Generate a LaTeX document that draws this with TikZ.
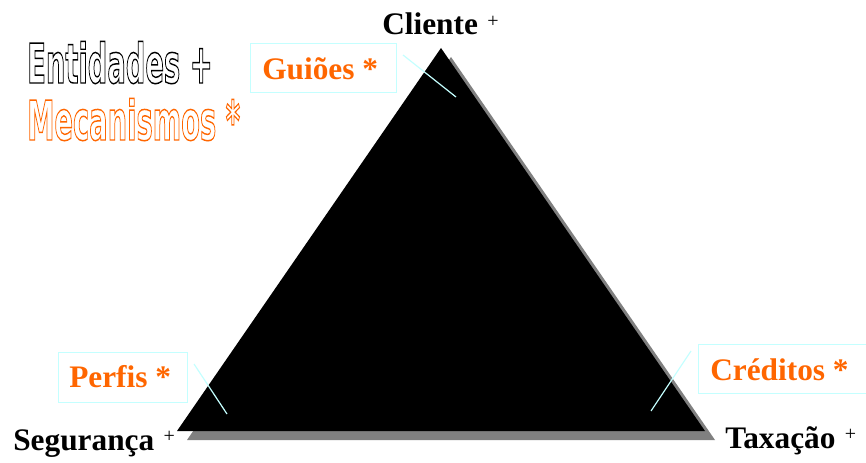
\documentclass[tikz,border=0pt]{standalone}
\usepackage{fontspec}
\usepackage{graphicx}
\setmainfont{Liberation Serif}
\newfontfamily\condfont{DejaVu Sans}
\definecolor{orng}{HTML}{FF6600}
\definecolor{pale}{HTML}{C4FFFF}
\definecolor{shadowgray}{HTML}{808080}
\newcommand{\outltext}[1]{\special{pdf:literal direct 1 Tr 1.1 w}#1\special{pdf:literal direct 0 Tr}}
\newcommand{\supplus}{\hspace{0.3em}\raisebox{5.5pt}{\fontsize{15}{15}\selectfont\mdseries+}}
\tikzset{
  vertexlabel/.style={inner sep=0pt, anchor=base west, font=\fontsize{23.5}{23.5}\selectfont\bfseries},
  mechbox/.style={draw=pale, line width=0.75pt, inner sep=0pt},
  mechtext/.style={inner sep=0pt, anchor=base west, text=orng, font=\fontsize{23.5}{23.5}\selectfont\bfseries},
  pointer/.style={draw=pale, line width=0.9pt},
  titletext/.style={inner sep=0pt, anchor=base west, font=\condfont\bfseries\fontsize{41}{41}\selectfont}
}
\begin{document}
\begin{tikzpicture}[x=0.75pt,y=-0.75pt]
\useasboundingbox (0,0) rectangle (866,463);
% triangle with shadow
\coordinate (top) at (441,48);
\coordinate (bl) at (177,431);
\coordinate (br) at (705,431);
\fill[shadowgray] ([shift={(10,9)}]top) -- ([shift={(10,9)}]bl) -- ([shift={(10,9)}]br) -- cycle;
\fill[black] (top) -- (bl) -- (br) -- cycle;
% vertex labels
\node[vertexlabel] (cliente) at (382,35) {Cliente\supplus};
\node[vertexlabel] (seguranca) at (13,450) {Segurança\supplus};
\node[vertexlabel] (taxacao) at (725,448) {Taxação\supplus};
% mechanism boxes
\node[mechbox, minimum width=146*0.75pt, minimum height=49*0.75pt, anchor=north west] (guiobox) at (250,43) {};
\node[mechtext] (guioes) at (262,80) {Guiões *};
\node[mechbox, minimum width=129*0.75pt, minimum height=50*0.75pt, anchor=north west] (perfbox) at (58,352) {};
\node[mechtext] (perfis) at (69,387) {Perfis *};
\node[mechbox, minimum width=172*0.75pt, minimum height=49*0.75pt, anchor=north west] (credbox) at (698,344) {};
\node[mechtext] (creditos) at (710,380) {Créditos *};
% pointers
\coordinate (g1) at (403,55); \coordinate (g2) at (456,97);
\coordinate (p1) at (194,364); \coordinate (p2) at (227,414);
\coordinate (c1) at (691,351); \coordinate (c2) at (651,411);
\draw[pointer] (g1) -- (g2);
\draw[pointer] (p1) -- (p2);
\draw[pointer] (c1) -- (c2);
% legend title
\node[titletext] (entidades) at (27,83) {\scalebox{0.5}[1]{\color{black}\outltext{Entidades +}}};
\node[titletext] (mecanismos) at (27,140) {\scalebox{0.5}[1]{\color{orng}\outltext{Mecanismos *}}};
\end{tikzpicture}
\end{document}
